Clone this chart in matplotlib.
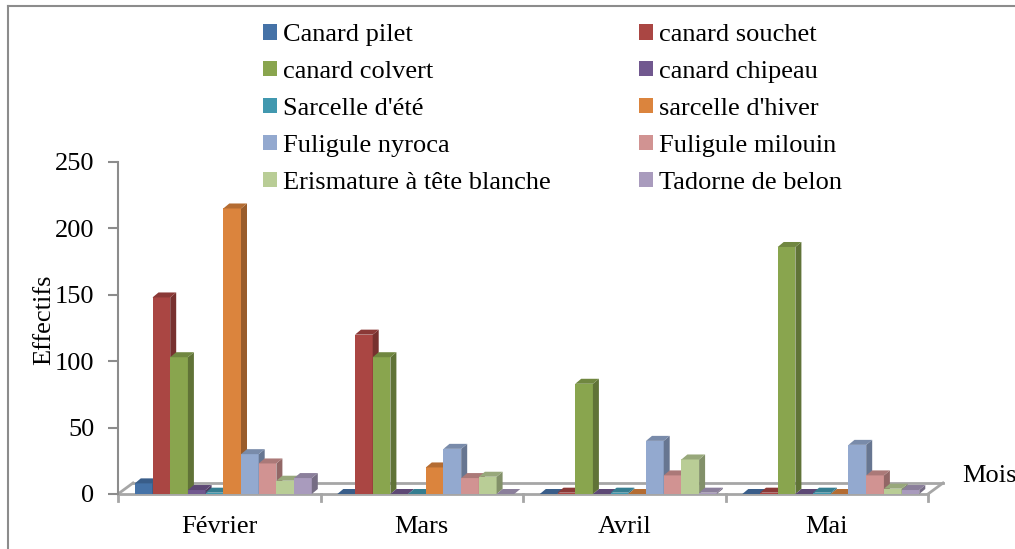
import matplotlib.pyplot as plt
from matplotlib.patches import Patch, Polygon
from matplotlib.lines import Line2D
from matplotlib.transforms import IdentityTransform

plt.rcParams['font.family'] = ['Liberation Serif', 'DejaVu Serif']

mois = ['Février', 'Mars', 'Avril', 'Mai']
especes = ['Canard pilet', 'canard souchet', 'canard colvert', 'canard chipeau',
           "Sarcelle d'été", "sarcelle d'hiver", 'Fuligule nyroca', 'Fuligule milouin',
           'Erismature à tête blanche', 'Tadorne de belon']
# effectifs par espèce, dans l'ordre des mois
canard_pilet = [8, 0, 0, 0]
canard_souchet = [148, 120, 1, 1]
canard_colvert = [103, 103, 83, 186]
canard_chipeau = [3, 0, 0, 0]
sarcelle_ete = [1, 0, 1, 1]
sarcelle_hiver = [215, 20, 0, 0]
fuligule_nyroca = [30, 34, 40, 37]
fuligule_milouin = [23, 12, 14, 14]
erismature = [10, 13, 26, 4]
tadorne = [12, 0, 1, 3]
effectifs = [canard_pilet, canard_souchet, canard_colvert, canard_chipeau, sarcelle_ete,
             sarcelle_hiver, fuligule_nyroca, fuligule_milouin, erismature, tadorne]

couleurs = ['#4572A7', '#AA4643', '#89A54E', '#71588F', '#4198AF',
            '#DB843D', '#93A9CF', '#D19392', '#B9CD96', '#A99BBD']


def assombrir(c, f):
    c = c.lstrip('#')
    r, g, b = (int(c[i:i + 2], 16) for i in (0, 2, 4))
    return (r * f / 255, g * f / 255, b * f / 255)


W, H = 1015, 549
fig = plt.figure(figsize=(W / 100, H / 100), dpi=100)
ax = fig.add_axes([118 / W, (H - 494) / H, 810 / W, 332 / H])
ax.set_xlim(-0.5, 3.5)
ax.set_ylim(0, 250)
for s in ['top', 'right', 'bottom']:
    ax.spines[s].set_visible(False)
ax.spines['left'].set_color('#8c8c8c')
ax.spines['left'].set_linewidth(1.5)
ax.set_yticks([0, 50, 100, 150, 200, 250])
ax.tick_params(axis='y', colors='#8c8c8c', length=7, width=1.5, labelsize=19,
               labelcolor='black', pad=10)
ax.set_xticks(range(len(mois)))
ax.set_xticklabels(mois)
ax.tick_params(axis='x', length=0, labelsize=19, pad=16)

largeur = 0.0874
decal = 0.02
dx, dy = 6, 5  # profondeur des barres en pixels
ident = IdentityTransform()


def px(x, y):
    return ax.transData.transform((x, y))


# sol (plan 3D)
x0, y0 = px(-0.5, 0)
x1, y1 = px(3.5, 0)
gris = '#a6a6a6'
sol = [[(x0, y0), (x1, y1)], [(x0 + 15, y0 + 11), (x1 + 15, y1 + 11)],
       [(x0, y0), (x0 + 15, y0 + 11)], [(x1, y1), (x1 + 15, y1 + 11)]]
for seg in sol:
    ax.add_line(Line2D([p[0] for p in seg], [p[1] for p in seg], transform=ident,
                       color=gris, lw=2, clip_on=False, zorder=1))
for k in range(len(mois) + 1):
    xt, yt = px(k - 0.5, 0)
    ax.add_line(Line2D([xt, xt], [yt, yt - 7], transform=ident, color=gris, lw=2,
                       clip_on=False, zorder=1))

for i, (nom, vals, c) in enumerate(zip(especes, effectifs, couleurs)):
    xs = [m + (i - 4.5) * largeur + decal for m in range(len(mois))]
    ax.bar(xs, vals, width=largeur, color=c, label=nom, zorder=3 + i, clip_on=False)
    for x, v in zip(xs, vals):
        (xa, ya) = px(x - largeur / 2, 0)
        (xb, yb) = px(x + largeur / 2, v)
        cote = Polygon([(xb, ya), (xb + dx, ya + dy), (xb + dx, yb + dy), (xb, yb)],
                       closed=True, transform=ident, facecolor=assombrir(c, 0.7),
                       edgecolor='none', zorder=3 + i, clip_on=False)
        dessus = Polygon([(xa, yb), (xb, yb), (xb + dx, yb + dy), (xa + dx, yb + dy)],
                         closed=True, transform=ident, facecolor=assombrir(c, 0.82),
                         edgecolor='none', zorder=3 + i, clip_on=False)
        ax.add_patch(cote)
        ax.add_patch(dessus)

ordre = [0, 2, 4, 6, 8, 1, 3, 5, 7, 9]
poignees = [Patch(facecolor=couleurs[j], label=especes[j]) for j in ordre]
fig.legend(handles=poignees, loc='upper left', bbox_to_anchor=(263 / W, 1 - 24 / H),
           ncol=2, frameon=False, fontsize=19, handlelength=0.53, handleheight=0.53,
           handletextpad=0.23, columnspacing=3.33, labelspacing=0.56, borderpad=0,
           borderaxespad=0)

fig.text(44 / W, 1 - 320 / H, 'Effectifs', rotation=90, ha='center', va='center', fontsize=19)
fig.text(962 / W, 1 - 476 / H, 'Mois', ha='left', va='center', fontsize=19)

# cadre du graphique
fig.add_artist(Line2D([8 / W, 8 / W], [0, 1 - 6 / H], color='#8c8c8c', lw=1.5))
fig.add_artist(Line2D([8 / W, 1], [1 - 6 / H, 1 - 6 / H], color='#8c8c8c', lw=1.5))

fig.savefig('out.png', dpi=100)
